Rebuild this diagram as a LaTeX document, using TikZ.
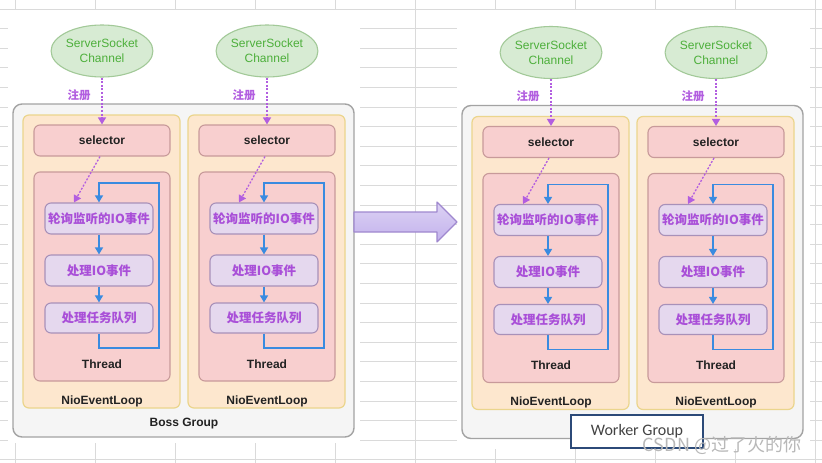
\documentclass[tikz,border=0pt]{standalone}
\usepackage{fontspec}
\setmainfont{Liberation Sans}
\newfontfamily\cjk{Noto Sans CJK SC}
\newfontfamily\calib{Carlito}
\usetikzlibrary{arrows.meta,shapes.geometric}
\definecolor{gridc}{HTML}{DADADA}
\definecolor{grpf}{HTML}{F5F5F5}
\definecolor{grpb}{HTML}{A3A3A3}
\definecolor{nelf}{HTML}{FDE7CE}
\definecolor{nelb}{HTML}{EBD58C}
\definecolor{redf}{HTML}{F8CFCF}
\definecolor{redb}{HTML}{C89A9A}
\definecolor{evf}{HTML}{E5D8EE}
\definecolor{evb}{HTML}{A891B9}
\definecolor{evt}{HTML}{A94FD8}
\definecolor{chf}{HTML}{D7EBD3}
\definecolor{chb}{HTML}{A2C998}
\definecolor{cht}{HTML}{4DAF3B}
\definecolor{lblc}{HTML}{222222}
\definecolor{flowc}{HTML}{3A8BE0}
\definecolor{regc}{HTML}{B25EE0}
\definecolor{arrf}{HTML}{DCD2F4}
\definecolor{arrg}{HTML}{C3B2EC}
\definecolor{arrb}{HTML}{9F88CF}
\definecolor{wkb}{HTML}{2C4A78}
\definecolor{wmc}{HTML}{B8B8B8}
\tikzset{
  gridln/.style={draw=gridc, line width=0.7pt},
  grpbox/.style={draw=grpb, fill=grpf, rounded corners=9pt, line width=1.4pt, minimum width=341pt, minimum height=333pt, inner sep=0},
  nelbox/.style={draw=nelb, fill=nelf, rounded corners=6pt, line width=1.2pt, minimum width=157pt, minimum height=293pt, inner sep=0},
  redbox/.style={draw=redb, fill=redf, rounded corners=6pt, line width=1.1pt, minimum width=136pt, inner sep=0},
  evbox/.style={draw=evb, fill=evf, rounded corners=6pt, line width=1.1pt, minimum width=108pt, minimum height=31pt, inner sep=0, font=\cjk\bfseries\fontsize{12.5}{14}\selectfont, text=evt},
  chan/.style={ellipse, draw=chb, fill=chf, line width=1.1pt, minimum width=90pt, minimum height=52pt, inner sep=0, align=center, text=cht, font=\fontsize{12}{15}\selectfont},
  lbl/.style={font=\bfseries\fontsize{12}{14}\selectfont, text=lblc},
  flow/.style={draw=flowc, line width=1.3pt, -{Triangle[width=8pt,length=7pt]}},
  reg/.style={draw=regc, line width=1.3pt, dash pattern=on 2pt off 1.6pt, -{Triangle[width=8pt,length=7pt]}},
}
\newcommand\nelcol[3]{%
  \node[chan] (#1ch) at (#2,51+#3) {ServerSocket\\Channel};
  \node[text=regc, font=\cjk\bfseries\fontsize{11.5}{12}\selectfont] (#1zc) at (#2-23,95+#3) {注册};
  \node[nelbox] (#1nel) at (#2-0.5,261.5+#3) {};
  \node[redbox, minimum height=209pt] (#1th) at (#2,276.5+#3) {};
  \node[redbox, minimum height=31pt, lbl] (#1sel) at (#2,140.5+#3) {selector};
  \node[evbox] (#1e1) at (#2-3,218.5+#3) {轮询监听的IO事件};
  \node[evbox] (#1e2) at (#2-3,270.5+#3) {处理IO事件};
  \node[evbox, minimum height=30pt] (#1e3) at (#2-3,318+#3) {处理任务队列};
  \node[lbl] (#1tl) at (#2,364+#3) {Thread};
  \node[lbl] (#1nl) at (#2,401+#3) {NioEventLoop};
  \coordinate (#1lp) at (#2+57,348+#3);
  \coordinate (#1lq) at (#2+57,183+#3);
  \draw[reg] (#1ch.south) -- (#1sel.north);
  \draw[reg] ([xshift=-2pt]#1sel.south) -- ([xshift=-25pt]#1e1.north);
  \draw[flow] (#1e1) -- (#1e2);
  \draw[flow] (#1e2) -- (#1e3);
  \draw[flow] (#1e3.south) |- (#1lp) -- (#1lq) -| (#1e1.north);
}
\begin{document}
\begin{tikzpicture}[x=1pt,y=-1pt]
\useasboundingbox (0,0) rectangle (822,463);
\fill[white] (0,0) rectangle (822,463);
% spreadsheet grid behind the pasted pictures
\foreach \k in {0,...,23} \draw[gridln] (0,9+19.6*\k) -- (822,9+19.6*\k);
\foreach \k in {0,...,10} \draw[gridln] (15+80*\k,0) -- (15+80*\k,463);
\fill[white] (8,10) rectangle (360,443);
\fill[white] (457,10) rectangle (810,449);
% Boss group
\node[grpbox] (boss) at (183.5,270.5) {};
\nelcol{a}{102}{0}
\nelcol{b}{267}{0}
\node[lbl] (bosst) at (184,424) {Boss Group};
% Worker group
\node[grpbox] (worker) at (632.5,272) {};
\nelcol{c}{551}{1.5}
\nelcol{d}{716}{1.5}
\node[draw=wkb, fill=white, line width=1.8pt, minimum width=132pt, minimum height=33pt, inner sep=0, font=\calib\fontsize{16}{18}\selectfont, text=lblc!85] (wk) at (637,431.5) {Worker Group};
% big arrow between the groups
\coordinate (p1) at (354,212);
\coordinate (p2) at (437,212);
\coordinate (p3) at (437,202);
\coordinate (p4) at (457,222);
\coordinate (p5) at (437,242);
\coordinate (p6) at (437,232);
\coordinate (p7) at (354,232);
\draw[draw=arrb, line width=1.1pt, top color=arrf, bottom color=arrg, line join=round] (p1) -- (p2) -- (p3) -- (p4) -- (p5) -- (p6) -- (p7) -- cycle;
% watermark
\node[font=\cjk\fontsize{18}{20}\selectfont, text=wmc] (wm) at (722,445) {CSDN @过了火的你};
\end{tikzpicture}
\end{document}
